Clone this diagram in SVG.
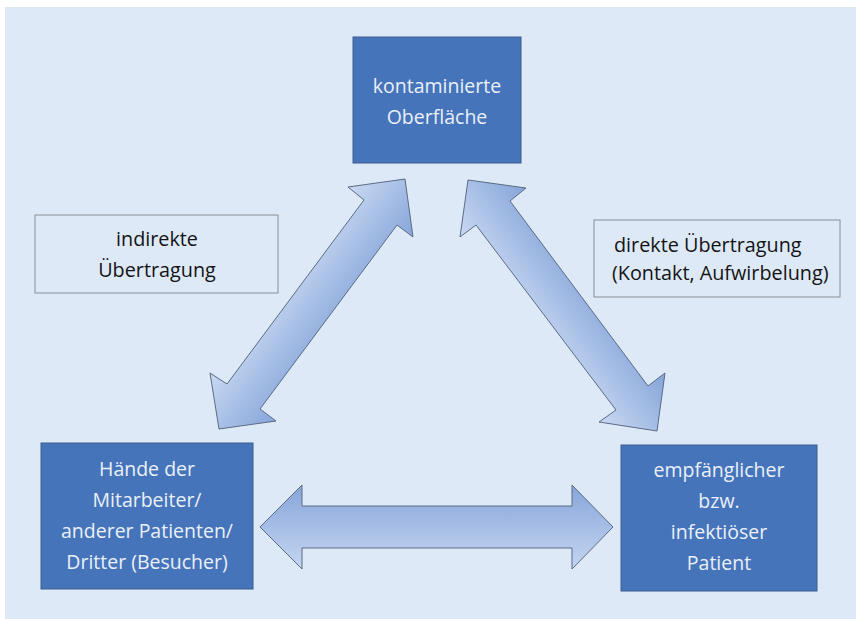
<svg xmlns="http://www.w3.org/2000/svg" width="856" height="619" viewBox="0 0 856 619">
<defs>
<linearGradient id="gL" gradientUnits="userSpaceOnUse" x1="348" y1="187" x2="414" y2="236">
<stop offset="0" stop-color="#c9d9f2"/><stop offset="1" stop-color="#86a5da"/>
</linearGradient>
<linearGradient id="gR" gradientUnits="userSpaceOnUse" x1="460" y1="237" x2="526" y2="188">
<stop offset="0" stop-color="#c9d9f2"/><stop offset="1" stop-color="#86a5da"/>
</linearGradient>
<linearGradient id="gH" gradientUnits="userSpaceOnUse" x1="0" y1="485" x2="0" y2="569">
<stop offset="0" stop-color="#88a5da"/><stop offset="1" stop-color="#c4d6f1"/>
</linearGradient>
<style>
.node{fill:#4674ba;stroke:#3b5f8f;stroke-width:1}
.lbl{fill:#eaf0f9;font-family:"Open Sans","Noto Sans",sans-serif;font-size:19.5px;text-anchor:middle}
.cap{fill:none;stroke:#8a8f96;stroke-width:1}
.ct{fill:#141414;font-family:"Open Sans","Noto Sans",sans-serif;font-size:19.8px}
.arr{stroke:#5b6b84;stroke-width:1;stroke-linejoin:miter}
</style>
</defs>
<rect x="5" y="7" width="851" height="612" fill="#dde9f7"/>
<g id="connectors">
<polygon class="arr" fill="url(#gL)" points="405,179 413,237 397,225 260,409 276,421 219,429 210,373 227,384 364,200 348,187"/>
<polygon class="arr" fill="url(#gR)" points="468,180 526,188 510,201 648,386 665,373 657,431 599,422 616,410 476,225 460,237"/>
<polygon class="arr" fill="url(#gH)" points="260,527 302,485 302,506 572,506 572,485 613,527 572,569 572,548 302,548 302,569"/>
</g>
<g id="node-oberflaeche">
<rect class="node" x="353" y="37" width="168" height="126"/>
<text class="lbl" x="437" y="93">kontaminierte</text>
<text class="lbl" x="437" y="124">Oberfläche</text>
</g>
<g id="node-haende">
<rect class="node" x="41" y="443" width="212" height="146"/>
<text class="lbl" x="147" y="476">Hände der</text>
<text class="lbl" x="147" y="507">Mitarbeiter/</text>
<text class="lbl" x="147" y="538">anderer Patienten/</text>
<text class="lbl" x="147" y="569">Dritter (Besucher)</text>
</g>
<g id="node-patient">
<rect class="node" x="621" y="445" width="196" height="146"/>
<text class="lbl" x="719" y="477">empfänglicher</text>
<text class="lbl" x="719" y="508">bzw.</text>
<text class="lbl" x="719" y="539">infektiöser</text>
<text class="lbl" x="719" y="570">Patient</text>
</g>
<g id="label-indirekt">
<rect class="cap" x="35" y="215" width="243" height="78"/>
<text class="ct" x="157" y="246" text-anchor="middle">indirekte</text>
<text class="ct" x="157" y="277" text-anchor="middle">Übertragung</text>
</g>
<g id="label-direkt">
<rect class="cap" x="594" y="220" width="246" height="77"/>
<text class="ct" x="614" y="252">direkte Übertragung</text>
<text class="ct" x="612" y="280">(Kontakt, Aufwirbelung)</text>
</g>
</svg>
